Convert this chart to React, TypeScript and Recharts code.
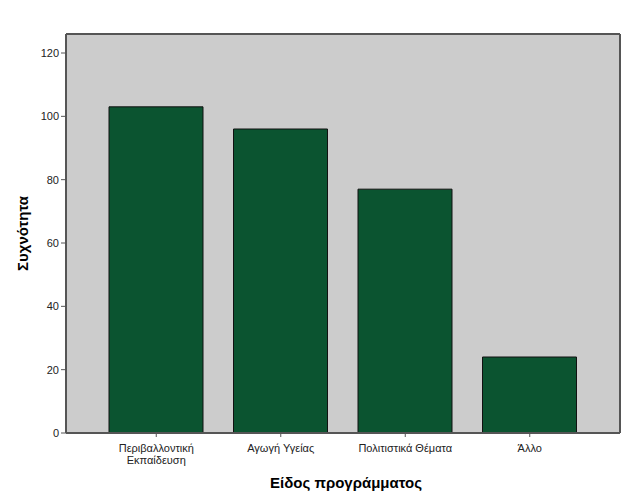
import { BarChart, Bar, XAxis, YAxis, CartesianGrid } from "recharts"

const categories = ["Περιβαλλοντική\nΕκπαίδευση", "Αγωγή Υγείας", "Πολιτιστικά Θέματα", "Άλλο"]
const frequencies = [103, 96, 77, 24]
const yTicks = [0, 20, 40, 60, 80, 100, 120]

const chartData = categories.map((name, i) => ({ name, value: frequencies[i] }))

const font = "'Liberation Sans', Arial, sans-serif"
const axisColor = "#555555"

function CategoryTick({ x, y, payload }: any) {
  const lines = String(payload.value).split("\n")
  return (
    <text x={x} y={y} textAnchor="middle" fontFamily={font} fontSize={11} fill="#222">
      {lines.map((line, i) => (
        <tspan key={i} x={x} dy={i === 0 ? 13 : 12}>
          {line}
        </tspan>
      ))}
    </text>
  )
}

function YTitle({ viewBox }: any) {
  const cy = viewBox.y + viewBox.height / 2
  return (
    <text
      x={22}
      y={cy}
      transform={`rotate(-90, 22, ${cy})`}
      textAnchor="middle"
      dominantBaseline="central"
      fontFamily={font}
      fontSize={15}
      fontWeight="bold"
      fill="#000"
    >
      Συχνότητα
    </text>
  )
}

function XTitle({ viewBox }: any) {
  const cx = viewBox.x + viewBox.width / 2 + 3
  return (
    <text x={cx} y={488} textAnchor="middle" fontFamily={font} fontSize={15} fontWeight="bold" fill="#000">
      Είδος προγράμματος
    </text>
  )
}

// frame lines at the edges of the plot area
const frameX = ({ offset }: any) => [offset.left, offset.left + offset.width]
const frameY = ({ offset }: any) => [offset.top, offset.top + offset.height]

export default function App() {
  return (
    <div style={{ position: "absolute", left: 0, top: 0, background: "#fff" }}>
      <BarChart width={629} height={504} data={chartData} margin={{ top: 34, right: 9, left: 0, bottom: 0 }} barSize={94}>
        <CartesianGrid
          fill="#cccccc"
          stroke={axisColor}
          strokeWidth={2}
          strokeDasharray=""
          verticalCoordinatesGenerator={frameX}
          horizontalCoordinatesGenerator={frameY}
        />
        <XAxis
          dataKey="name"
          interval={0}
          padding={{ left: 28, right: 28 }}
          height={71}
          tick={<CategoryTick />}
          tickSize={4}
          tickLine={{ stroke: axisColor }}
          axisLine={{ stroke: axisColor, strokeWidth: 2 }}
          label={<XTitle />}
        />
        <YAxis
          width={66}
          domain={[0, 126]}
          ticks={yTicks}
          tickSize={5}
          tickMargin={2}
          tick={{ fontFamily: font, fontSize: 11, fill: "#222" }}
          tickLine={{ stroke: axisColor }}
          axisLine={{ stroke: axisColor, strokeWidth: 2 }}
          label={<YTitle />}
        />
        <Bar dataKey="value" fill="#0b5430" stroke="#111" strokeWidth={1} isAnimationActive={false} />
      </BarChart>
    </div>
  )
}
